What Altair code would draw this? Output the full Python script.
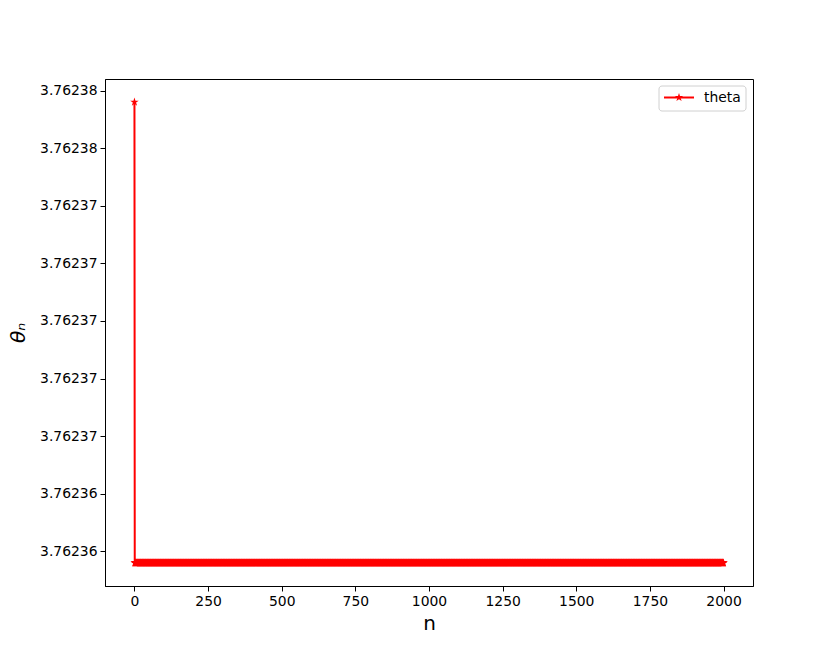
import altair as alt
import pandas as pd

# Data: first iterate high, then constant
n_values = list(range(0, 2001))
theta_first = [3.7623776]
theta_rest = [3.7623616] * 2000
theta_values = theta_first + theta_rest

y_ticks = [3.762362, 3.762364, 3.762366, 3.762368, 3.762370,
           3.762372, 3.762374, 3.762376, 3.762378]
x_ticks = [0, 250, 500, 750, 1000, 1250, 1500, 1750, 2000]

df = pd.DataFrame({"n": n_values, "theta": theta_values})

STAR = ("M0,-1 L0.2245,-0.309 L0.951,-0.309 L0.363,0.118 L0.588,0.809 "
        "L0,0.382 L-0.588,0.809 L-0.363,0.118 L-0.951,-0.309 L-0.2245,-0.309 Z")
RED = "#ff0000"
FONT = "DejaVu Sans"

xscale = alt.Scale(domain=[-100, 2100], nice=False, zero=False)
yscale = alt.Scale(domain=[3.7623608, 3.7623784], nice=False, zero=False)

xenc = alt.X("n:Q", scale=xscale,
             axis=alt.Axis(values=x_ticks, title="n", format="d",
                           titleFontSize=20, titleFont=FONT, titleFontWeight="normal",
                           titlePadding=6, labelFontSize=13.9, labelFont=FONT,
                           labelColor="black", tickColor="black", domainColor="black",
                           tickSize=5, labelPadding=3, grid=False, labelFlush=False))
yenc = alt.Y("theta:Q", scale=yscale,
             axis=alt.Axis(values=y_ticks, title="θₙ", format=".5f",
                           titleFontSize=20, titleFont=FONT, titleFontWeight="normal",
                           titleFontStyle="italic", titlePadding=11,
                           labelFontSize=13.9, labelFont=FONT,
                           labelColor="black", tickColor="black", domainColor="black",
                           tickSize=5, labelPadding=3, grid=False, labelFlush=False))

base = alt.Chart(df)
line = base.mark_line(color=RED, strokeWidth=2).encode(x=xenc, y=yenc, order="n:Q")
pts = base.mark_point(shape=STAR, filled=True, color=RED, size=80, opacity=1).encode(
    x=alt.X("n:Q", scale=xscale), y=alt.Y("theta:Q", scale=yscale))

legend_df = pd.DataFrame({"label": ["theta"]})
lb = alt.Chart(legend_df)
box = lb.mark_rect(fill="white", stroke="#cccccc", strokeWidth=1, cornerRadius=3,
                   opacity=0.9).encode(
    x=alt.value(554), x2=alt.value(641), y=alt.value(7), y2=alt.value(32))
lline = lb.mark_rule(color=RED, strokeWidth=2).encode(
    x=alt.value(559), x2=alt.value(589), y=alt.value(18.5))
lstar = lb.mark_point(shape=STAR, filled=True, color=RED, size=80, opacity=1).encode(
    x=alt.value(574), y=alt.value(18.5))
ltext = lb.mark_text(align="left", baseline="middle", font=FONT, fontSize=13.9,
                     color="black").encode(
    x=alt.value(599), y=alt.value(18.5), text="label:N")

chart = alt.layer(line, pts, box, lline, lstar, ltext).properties(
    width=648, height=507,
    autosize=alt.AutoSizeParams(type="none"),
    padding={"left": 97, "top": 71, "right": 75, "bottom": 64},
).configure_view(stroke="black", strokeWidth=1).configure_axis(domainWidth=1, tickWidth=1)

chart.save("out.html", embed_options={"renderer": "svg", "actions": False})
